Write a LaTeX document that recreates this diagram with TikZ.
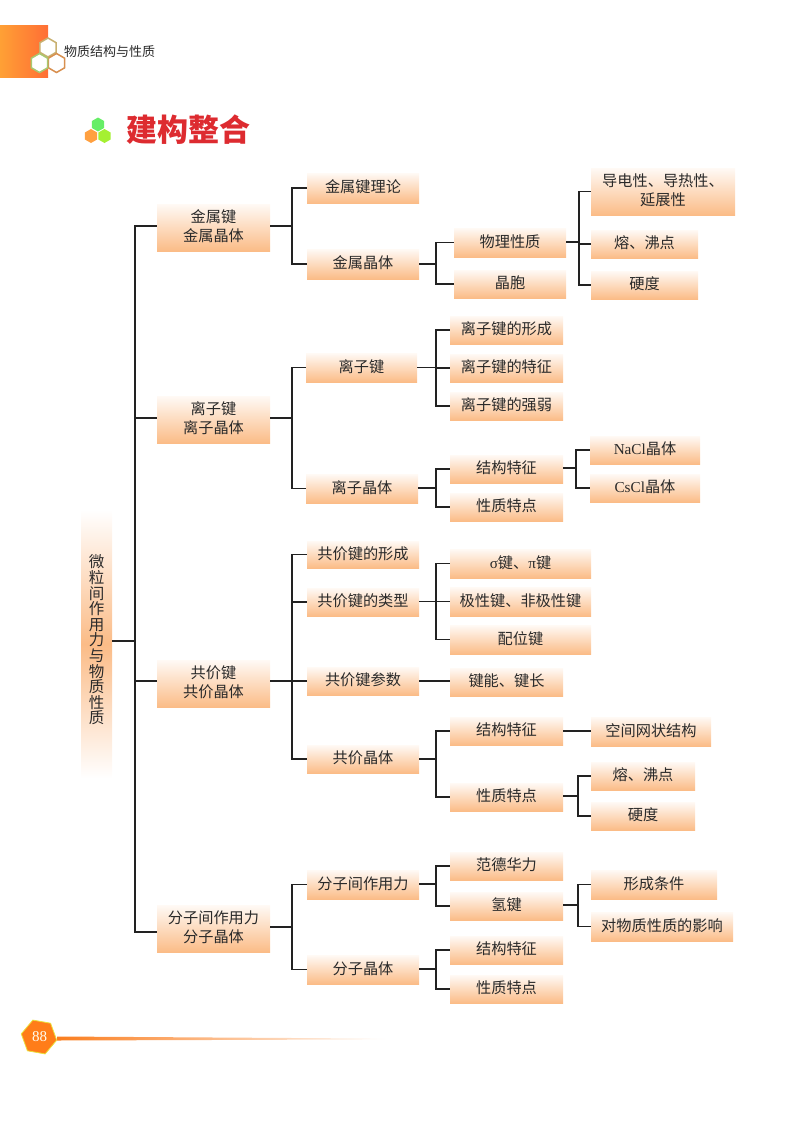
\documentclass[tikz,border=0pt]{standalone}
\usepackage{fontspec}
\setmainfont{Noto Sans CJK SC}
\newfontfamily\latinserif{Liberation Serif}
\usetikzlibrary{calc}
\definecolor{boxorange}{HTML}{FBBC87}
\definecolor{linecol}{HTML}{222222}
\definecolor{txtcol}{HTML}{2A2A2A}
\definecolor{headL}{HTML}{FFA035}
\definecolor{headR}{HTML}{FF6E35}
\definecolor{hexA}{HTML}{C8B070}
\definecolor{hexB}{HTML}{D89050}
\definecolor{hexC}{HTML}{A8C870}
\tikzset{
  bx/.style={inner sep=0pt,outer sep=0pt,top color=white!92!boxorange,bottom color=boxorange},
  bxtext/.style={inner sep=0pt,align=center,text=txtcol,font=\fontsize{15.2}{19}\selectfont},
  link/.style={draw=linecol,line width=1.1pt},
  hexline/.style={line width=1.5pt,fill=white},
  hexfill/.style={draw=none}
}
\newcommand{\mybox}[6]{%
  \node[bx,minimum width={(#4-#2)*1pt},minimum height={(#5-#3)*1pt}] (#1) at ({(#2+#4)/2},{(#3+#5)/2}) {};
  \node[bxtext] (#1t) at ({(#2+#4)/2},{(#3+#5)/2-1}) {#6};}
\newcommand{\hexagonat}[4]{% style, cx, cy, r
  \path[#1] (#2,#3) +(90:#4) -- +(30:#4) -- +(-30:#4) -- +(-90:#4) -- +(-150:#4) -- +(150:#4) -- cycle;}
\begin{document}
\begin{tikzpicture}[x=1pt,y=-1pt]
\useasboundingbox (0,0) rectangle (800,1122);
% header
\path[left color=headL,right color=headR,draw=none] (0,25) rectangle (48,77);
\hexagonat{draw=hexA,hexline}{48}{47.5}{9.5}
\hexagonat{draw=hexB,hexline}{56.5}{63}{9.5}
\hexagonat{draw=hexC,hexline}{39.5}{63}{9.5}
\node[font=\fontsize{13}{15}\selectfont,text=txtcol,inner sep=0pt,anchor=west] (hdr) at (64,52) {物质结构与性质};
% title
\hexagonat{fill={rgb,255:red,102;green,238;blue,102},hexfill}{98}{124.5}{7}
\hexagonat{fill={rgb,255:red,255;green,160;blue,64},hexfill}{91}{136}{7}
\hexagonat{fill={rgb,255:red,165;green,240;blue,50},hexfill}{104.5}{136}{7}
\node[font=\fontsize{31}{33}\bfseries\selectfont,text={rgb,255:red,221;green,43;blue,48},inner sep=0pt,anchor=west] (title) at (126,130) {建构整合};
% main
\node[inner sep=0pt,top color=white,bottom color=white,middle color=boxorange,minimum width=31pt,minimum height=268pt] (main) at (96.5,644) {};
\node[inner sep=0pt,text=txtcol,align=center,font=\fontsize{15.5}{15.6}\selectfont] (maintxt) at (96.5,640) {微\\粒\\间\\作\\用\\力\\与\\物\\质\\性\\质};
% level 1
\mybox{a}{157}{204}{270}{251}{金属键\\金属晶体}
\mybox{b}{157}{396}{270}{443}{离子键\\离子晶体}
\mybox{c}{157}{660}{270}{707}{共价键\\共价晶体}
\mybox{d}{157}{905}{270}{952}{分子间作用力\\分子晶体}
% metal
\mybox{a1}{307}{173}{419}{203}{金属键理论}
\mybox{a2}{307}{249}{419}{279}{金属晶体}
\mybox{a21}{454}{228}{566}{257}{物理性质}
\mybox{a22}{454}{270}{566}{298}{晶胞}
\mybox{a211}{591}{168}{735}{215}{导电性、导热性、\\延展性}
\mybox{a212}{591}{230}{698}{258}{熔、沸点}
\mybox{a213}{591}{271}{698}{299}{硬度}
% ionic
\mybox{b1}{306}{353}{417}{382}{离子键}
\mybox{b2}{306}{474}{418}{503}{离子晶体}
\mybox{b11}{450}{316}{563}{344}{离子键的形成}
\mybox{b12}{450}{354}{563}{382}{离子键的特征}
\mybox{b13}{450}{392}{563}{420}{离子键的强弱}
\mybox{b21}{450}{455}{563}{483}{结构特征}
\mybox{b22}{450}{493}{563}{521}{性质特点}
\mybox{b211}{590}{436}{700}{464}{{\latinserif NaCl}晶体}
\mybox{b212}{590}{474}{700}{502}{{\latinserif CsCl}晶体}
% covalent
\mybox{c1}{307}{541}{419}{568}{共价键的形成}
\mybox{c2}{307}{588}{419}{616}{共价键的类型}
\mybox{c3}{307}{667}{419}{695}{共价键参数}
\mybox{c4}{307}{745}{419}{773}{共价晶体}
\mybox{c21}{450}{549}{591}{578}{{\latinserif σ}键、{\latinserif π}键}
\mybox{c22}{450}{587}{591}{616}{极性键、非极性键}
\mybox{c23}{450}{625}{591}{654}{配位键}
\mybox{c31}{450}{668}{563}{696}{键能、键长}
\mybox{c41}{450}{717}{563}{745}{结构特征}
\mybox{c42}{450}{783}{563}{811}{性质特点}
\mybox{c411}{591}{717}{711}{746}{空间网状结构}
\mybox{c421}{591}{762}{695}{790}{熔、沸点}
\mybox{c422}{591}{802}{695}{830}{硬度}
% molecular
\mybox{d1}{307}{870}{419}{899}{分子间作用力}
\mybox{d2}{307}{955}{419}{984}{分子晶体}
\mybox{d11}{450}{852}{563}{880}{范德华力}
\mybox{d12}{450}{892}{563}{920}{氢键}
\mybox{d21}{450}{936}{563}{964}{结构特征}
\mybox{d22}{450}{975}{563}{1003}{性质特点}
\mybox{d121}{591}{870}{717}{899}{形成条件}
\mybox{d122}{591}{912}{733}{941}{对物质性质的影响}
% junctions
\coordinate (j0) at (135,641);
\coordinate (ta) at (157,226);
\coordinate (tb) at (157,418);
\coordinate (tc) at (157,681);
\coordinate (td) at (157,932);
\coordinate (ja) at (292,226);
\coordinate (ja2) at (436,264);
\coordinate (ja21) at (579,242);
\coordinate (jb) at (292,418);
\coordinate (jb1) at (436,367.5);
\coordinate (jb2) at (436,488);
\coordinate (jb21) at (576,468);
\coordinate (jc) at (292,681);
\coordinate (jc2) at (436,601.5);
\coordinate (jc4) at (436,759);
\coordinate (jc42) at (578,796);
\coordinate (jd) at (292,927);
\coordinate (jd1) at (436,884);
\coordinate (jd12) at (578,905);
\coordinate (jd2) at (436,969);
% connectors
\draw[link] (main.east |- j0) -- (j0);
\foreach \p/\j/\kids in {a/ja/{a1,a2},a2/ja2/{a21,a22},a21/ja21/{a211,a212,a213},
  b/jb/{b1,b2},b1/jb1/{b11,b12,b13},b2/jb2/{b21,b22},b21/jb21/{b211,b212},
  c/jc/{c1,c2,c3,c4},c2/jc2/{c21,c22,c23},c4/jc4/{c41,c42},c42/jc42/{c421,c422},
  d/jd/{d1,d2},d1/jd1/{d11,d12},d12/jd12/{d121,d122},d2/jd2/{d21,d22}}{
  \draw[link] (\p.east |- \j) -- (\j);
  \foreach \k in \kids { \draw[link] (\j) |- (\k.west); }
}
\foreach \k in {ta,tb,tc,td} { \draw[link] (j0) |- (\k); }
\draw[link] (c3.east) -- (c31.west |- c3.east);
\draw[link] (c41.east) -- (c411.west |- c41.east);
% footer
\path[left color={rgb,255:red,250;green,125;blue,30},right color=white,draw=none] (57,1036.5) -- (388,1038.6) -- (388,1039.4) -- (57,1040.5) -- cycle;
\path[draw={rgb,255:red,235;green,225;blue,60},line width=0.8pt,fill={rgb,255:red,255;green,125;blue,25}] (39,1037) +(10:18) -- +(70:18) -- +(130:18) -- +(190:18) -- +(250:18) -- +(310:18) -- cycle;
\node[text=white!95!yellow,inner sep=0pt,font=\fontsize{15}{15}\selectfont\latinserif] (pg) at (39.5,1037) {88};
\end{tikzpicture}
\end{document}
